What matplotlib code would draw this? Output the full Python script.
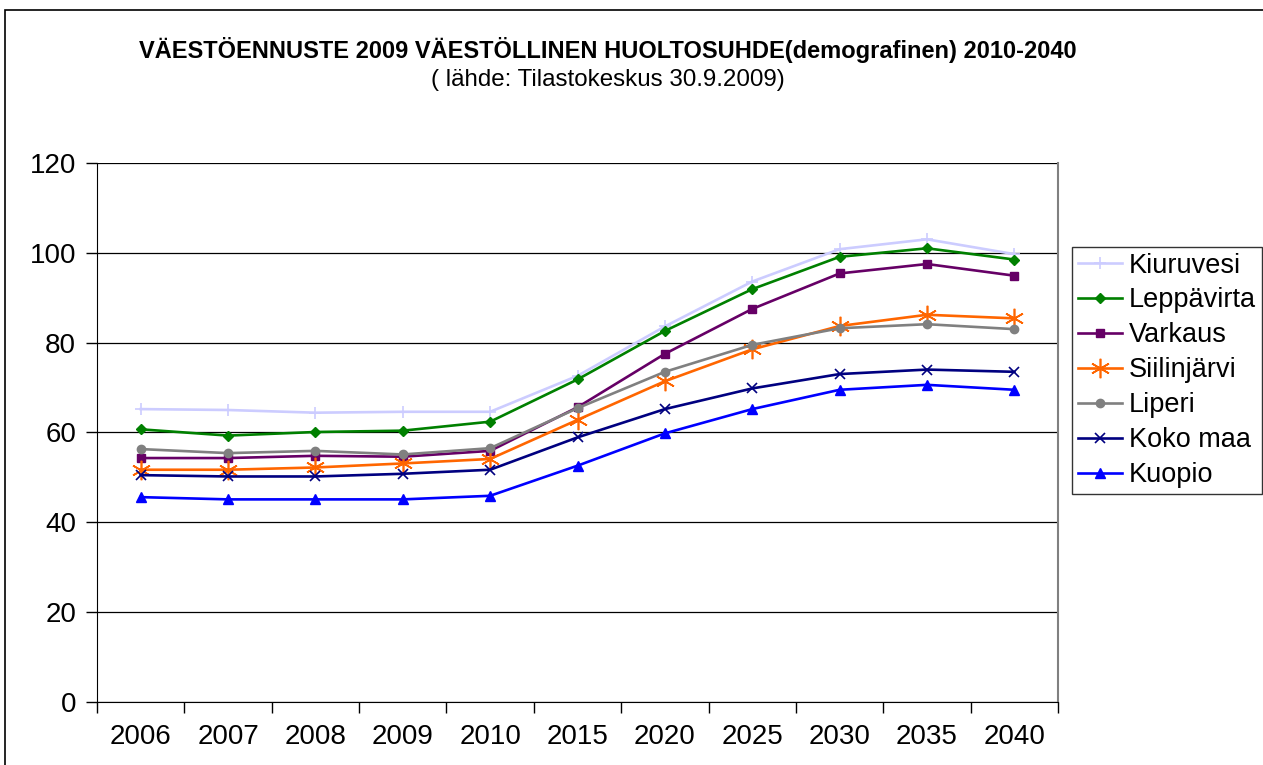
import matplotlib.pyplot as plt
from matplotlib.patches import Rectangle
from matplotlib.lines import Line2D
import numpy as np

plt.rcParams['font.family'] = ['Liberation Sans', 'DejaVu Sans']

years = ['2006', '2007', '2008', '2009', '2010', '2015', '2020', '2025', '2030', '2035', '2040']

kiuruvesi = [65.2, 65.0, 64.4, 64.6, 64.6, 72.6, 83.6, 93.6, 100.8, 103.0, 99.7]
leppavirta = [60.7, 59.3, 60.1, 60.4, 62.4, 71.8, 82.6, 91.9, 99.1, 101.0, 98.5]
varkaus = [54.3, 54.3, 54.8, 54.6, 55.9, 65.6, 77.5, 87.5, 95.4, 97.5, 94.9]
siilinjarvi = [51.7, 51.7, 52.2, 53.1, 54.1, 62.8, 71.4, 78.5, 83.7, 86.2, 85.4]
liperi = [56.3, 55.4, 55.9, 55.1, 56.5, 65.4, 73.5, 79.5, 83.2, 84.1, 83.0]
koko_maa = [50.5, 50.2, 50.2, 50.8, 51.7, 58.9, 65.2, 69.8, 73.0, 74.0, 73.5]
kuopio = [45.6, 45.1, 45.1, 45.1, 45.9, 52.6, 59.8, 65.2, 69.5, 70.6, 69.5]

series = [
    ('Kiuruvesi', kiuruvesi, '#ccccff', '+', 9, 1.2),
    ('Leppävirta', leppavirta, '#008000', 'D', 5, 1.0),
    ('Varkaus', varkaus, '#660066', 's', 6, 1.0),
    ('Siilinjärvi', siilinjarvi, '#ff6600', (6, 2, 0), 14, 1.2),
    ('Liperi', liperi, '#808080', 'o', 6, 1.0),
    ('Koko maa', koko_maa, '#000080', 'x', 7, 1.2),
    ('Kuopio', kuopio, '#0000ff', '^', 7, 1.0),
]

fig = plt.figure(figsize=(12.63, 7.65), dpi=100)
ax = fig.add_axes([0.0768, 0.0824, 0.7609, 0.7046])

# outer chart frame
fig.patches.append(Rectangle((0.004, -0.2), 1.2, 1.187, transform=fig.transFigure,
                             fill=False, edgecolor='black', linewidth=1.2))

x = np.arange(len(years))
handles = []
for name, vals, col, mk, ms, mew in series:
    ax.plot(x, vals, color=col, linewidth=1.9, marker=mk, markersize=ms,
            markeredgewidth=mew, markerfacecolor=col, markeredgecolor=col, zorder=3)
    handles.append(Line2D([], [], color=col, linewidth=1.9, marker=mk, markersize=ms,
                          markeredgewidth=mew, markerfacecolor=col, markeredgecolor=col))

ax.set_ylim(0, 120)
ax.set_yticks(range(0, 121, 20))
ax.set_xlim(-0.5, len(years) - 0.5)
ax.set_xticks(np.arange(-0.5, len(years), 1))
ax.set_xticklabels([])
ax.set_xticks(x, minor=True)
ax.set_xticklabels(years, minor=True)
ax.tick_params(axis='x', which='major', length=8, width=1, direction='out')
ax.tick_params(axis='x', which='minor', length=0, pad=16, labelsize=20)
ax.tick_params(axis='y', length=8, width=1, direction='out', pad=7, labelsize=20)

ax.grid(axis='y', color='black', linewidth=0.9)
ax.set_axisbelow(True)
ax.spines['top'].set_visible(False)
ax.spines['right'].set_color('#808080')
ax.spines['right'].set_linewidth(1.5)

fig.text(0.481, 0.934, 'VÄESTÖENNUSTE 2009 VÄESTÖLLINEN HUOLTOSUHDE(demografinen) 2010-2040',
         ha='center', va='center', fontsize=17, fontweight='bold')
fig.text(0.4815, 0.895, '( lähde: Tilastokeskus 30.9.2009)', ha='center', va='center', fontsize=17.4)

leg = fig.legend(handles, [s[0] for s in series], loc='upper left',
                 bbox_to_anchor=(0.849, 0.677), fontsize=19.5, frameon=True, fancybox=False,
                 edgecolor='black', handlelength=1.65, handletextpad=0.25, labelspacing=0.33,
                 borderpad=0.2, borderaxespad=0)
leg.get_frame().set_linewidth(1.0)

fig.savefig('out.png', dpi=100)
